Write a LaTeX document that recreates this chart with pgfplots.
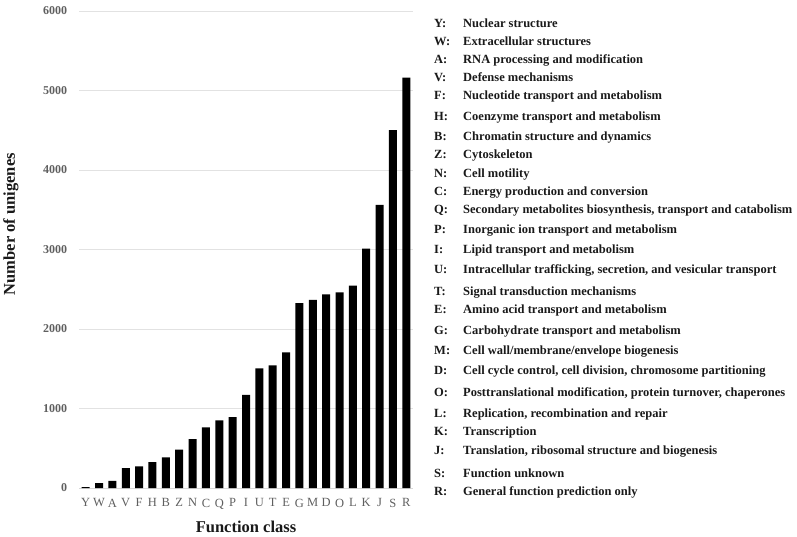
\documentclass[border=0pt]{standalone}
\usepackage{pgfplots}
\pgfplotsset{compat=1.18}
\usepackage{fontspec}
\setmainfont{Liberation Serif}
\definecolor{tickgray}{RGB}{95,95,95}
\definecolor{gridgray}{RGB}{226,226,226}
\definecolor{axgray}{RGB}{215,215,215}
\definecolor{txt}{RGB}{25,25,25}
\begin{document}
\begin{tikzpicture}[x=1pt,y=1pt]
\useasboundingbox (0,0) rectangle (797,536);
\begin{axis}[
  at={(79pt,48pt)}, anchor=south west,
  scale only axis, width=334pt, height=477pt,
  xmin=-0.5, xmax=24.5, ymin=0, ymax=6000,
  ybar, bar width=8pt,
  xtick={0,1,...,24},
  xticklabels={Y,W,A,V,F,H,B,Z,N,C,Q,P,I,U,T,E,G,M,D,O,L,K,J,S,R},
  minor xtick={-0.5,0.5,...,24.5},
  ytick={0,1000,2000,3000,4000,5000,6000},
  yticklabels={0,1000,2000,3000,4000,5000,6000},
  ymajorgrids, grid style={gridgray, line width=0.8pt},
  axis x line*=bottom, axis y line*=left,
  x axis line style={axgray, line width=0.8pt},
  y axis line style={draw=none},
  xtick style={draw=none},
  ytick style={draw=none},
  minor x tick style={axgray, line width=0.6pt},
  minor tick length=4pt,
  tick align=outside,
  x tick label style={font=\fontsize{12.5}{14}\selectfont, text=tickgray, yshift=-3pt},
  y tick label style={font=\bfseries\fontsize{12}{14}\selectfont, text=tickgray, xshift=-4pt},
  xlabel={Function class},
  xlabel style={font=\bfseries\fontsize{16.5}{18}\selectfont, text=txt, at={(axis description cs:0.5,-0.0818)}, anchor=center},
  ylabel={Number of unigenes},
  ylabel style={font=\bfseries\fontsize{16.5}{18}\selectfont, text=txt, at={(axis description cs:-0.2036,0.553)}, anchor=center, rotate=0},
  clip=false,
]
\addplot[fill=black, draw=none] coordinates {
(0,10) (1,60) (2,90) (3,250) (4,272) (5,327) (6,386) (7,482) (8,616) (9,763)
(10,851) (11,893) (12,1170) (13,1505) (14,1543) (15,1706) (16,2327) (17,2365)
(18,2436) (19,2461) (20,2545) (21,3012) (22,3561) (23,4500) (24,5162)};
\end{axis}
\foreach \yy/\c/\t in {
23.3/Y/{Nuclear structure},
41.7/W/{Extracellular structures},
59.3/A/{RNA processing and modification},
77.7/V/{Defense mechanisms},
95.7/F/{Nucleotide transport and metabolism},
116.7/H/{Coenzyme transport and metabolism},
136.7/B/{Chromatin structure and dynamics},
155/Z/{Cytoskeleton},
173.3/N/{Cell motility},
191.7/C/{Energy production and conversion},
210/Q/{Secondary metabolites biosynthesis, transport and catabolism},
230/P/{Inorganic ion transport and metabolism},
250/I/{Lipid transport and metabolism},
270/U/{Intracellular trafficking, secretion, and vesicular transport},
291.7/T/{Signal transduction mechanisms},
309.3/E/{Amino acid transport and metabolism},
330/G/{Carbohydrate transport and metabolism},
350/M/{Cell wall/membrane/envelope biogenesis},
370/D/{Cell cycle control, cell division, chromosome partitioning},
392.3/O/{Posttranslational modification, protein turnover, chaperones},
413.3/L/{Replication, recombination and repair},
431.7/K/{Transcription},
450/J/{Translation, ribosomal structure and biogenesis},
473.3/S/{Function unknown},
491.7/R/{General function prediction only}}{
  \node[anchor=base west, inner sep=0, text=txt, font=\bfseries\fontsize{12.5}{14}\selectfont] at (434,532-\yy) {\c:};
  \node[anchor=base west, inner sep=0, text=txt, font=\bfseries\fontsize{12.5}{14}\selectfont] at (463,532-\yy) {\t};
}
\end{tikzpicture}
\end{document}
